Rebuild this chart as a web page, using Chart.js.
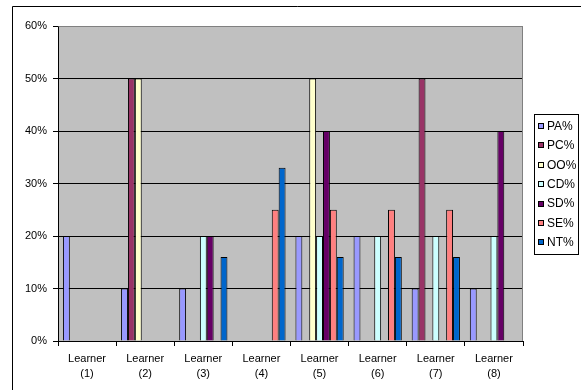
<!DOCTYPE html>
<html>
<head>
<meta charset="utf-8">
<script src="https://cdn.jsdelivr.net/npm/chart.js@4/dist/chart.umd.min.js"></script>
<style>
  html, body { margin: 0; padding: 0; background: #fff; }
  #wrap { width: 581px; height: 390px; position: relative; }
</style>
</head>
<body>
<div id="wrap"><canvas id="c" width="581" height="390"></canvas></div>
<script>
// Learner categories and per-category percentages
const learners = [['Learner', '(1)'], ['Learner', '(2)'], ['Learner', '(3)'], ['Learner', '(4)'],
                  ['Learner', '(5)'], ['Learner', '(6)'], ['Learner', '(7)'], ['Learner', '(8)']];
const seriesNames = ['PA%', 'PC%', 'OO%', 'CD%', 'SD%', 'SE%', 'NT%'];
const PA = [20, 10, 10, 0, 20, 20, 10, 10];
const PC = [0, 50, 0, 0, 0, 0, 50, 0];
const OO = [0, 50, 0, 0, 50, 0, 0, 0];
const CD = [0, 0, 20, 0, 20, 20, 20, 20];
const SD = [0, 0, 20, 0, 40, 0, 0, 40];
const SE = [0, 0, 0, 25, 25, 25, 25, 0];
const NT = [0, 0, 16, 33, 16, 16, 16, 0];
const yTicks = [0, 10, 20, 30, 40, 50, 60];

const colors = ['#9999FF', '#993366', '#FFFFCC', '#CCFFFF', '#660066', '#FF8080', '#0066CC'];
const values = [PA, PC, OO, CD, SD, SE, NT];

const datasets = seriesNames.map((name, i) => ({
  label: name,
  data: values[i],
  backgroundColor: colors[i],
  borderColor: '#000',
  borderWidth: 1,
  categoryPercentage: 0.83,
  barPercentage: 1.0
}));

// Grey plot background, outer frame, plot border, and a boxed legend
const decor = {
  id: 'decor',
  beforeDraw(chart) {
    const { ctx, chartArea: a } = chart;
    ctx.save();
    ctx.fillStyle = '#fff';
    ctx.fillRect(0, 0, chart.width, chart.height);
    ctx.strokeStyle = '#000';
    ctx.lineWidth = 1;
    ctx.beginPath();
    ctx.moveTo(12.5, chart.height + 2);
    ctx.lineTo(12.5, 6.5);
    ctx.lineTo(chart.width + 2, 6.5);
    ctx.stroke();
    ctx.fillStyle = '#C0C0C0';
    ctx.fillRect(a.left, a.top, a.right - a.left, a.bottom - a.top);
    ctx.restore();
  },
  afterDatasetsDraw(chart) {
    const { ctx, chartArea: a } = chart;
    ctx.save();
    ctx.strokeStyle = '#808080';
    ctx.lineWidth = 1;
    ctx.beginPath();
    ctx.moveTo(Math.round(a.left) + 0.5, Math.round(a.top) + 0.5);
    ctx.lineTo(Math.round(a.right) - 0.5, Math.round(a.top) + 0.5);
    ctx.lineTo(Math.round(a.right) - 0.5, Math.round(a.bottom));
    ctx.stroke();

    // legend
    const bx = 534.5, by = 114.5, bw = 44, bh = 140;
    ctx.fillStyle = '#fff';
    ctx.fillRect(bx, by, bw, bh);
    ctx.strokeStyle = '#000';
    ctx.strokeRect(bx, by, bw, bh);
    ctx.font = '12px "Liberation Sans", Arial, sans-serif';
    ctx.textBaseline = 'middle';
    ctx.textAlign = 'left';
    chart.data.datasets.forEach((ds, i) => {
      const cy = 126 + i * 19.4;
      ctx.fillStyle = ds.backgroundColor;
      ctx.fillRect(538.5, Math.round(cy) - 2.5, 5, 5);
      ctx.strokeStyle = '#000';
      ctx.strokeRect(538.5, Math.round(cy) - 2.5, 5, 5);
      ctx.fillStyle = '#000';
      ctx.fillText(ds.label, 547, cy + 0.5);
    });
    ctx.restore();
  }
};

new Chart(document.getElementById('c'), {
  type: 'bar',
  data: { labels: learners, datasets },
  options: {
    responsive: false,
    animation: false,
    layout: { padding: { left: 0, right: 58, top: 26, bottom: 0 } },
    plugins: { legend: { display: false }, tooltip: { enabled: false } },
    scales: {
      x: {
        offset: true,
        grid: { offset: true, drawOnChartArea: false, drawTicks: true, tickLength: 5, color: '#000' },
        border: { color: '#000', width: 1 },
        ticks: {
          color: '#000',
          padding: 6,
          maxRotation: 0,
          font: { family: '"Liberation Sans", Arial, sans-serif', size: 11, lineHeight: 1.35 }
        },
        afterFit(scale) { scale.height = 49; }
      },
      y: {
        min: 0,
        max: 60,
        afterBuildTicks(scale) { scale.ticks = yTicks.map(v => ({ value: v })); },
        grid: {
          color: ctx => (ctx.tick && ctx.tick.value === 60 ? '#808080' : '#000'),
          tickLength: 5,
          tickColor: '#000'
        },
        border: { color: '#000', width: 1 },
        ticks: {
          color: '#000',
          padding: 6,
          font: { family: '"Liberation Sans", Arial, sans-serif', size: 11 },
          callback: v => v + '%'
        },
        afterFit(scale) { scale.width = 58; }
      }
    }
  },
  plugins: [decor]
});
</script>
</body>
</html>
